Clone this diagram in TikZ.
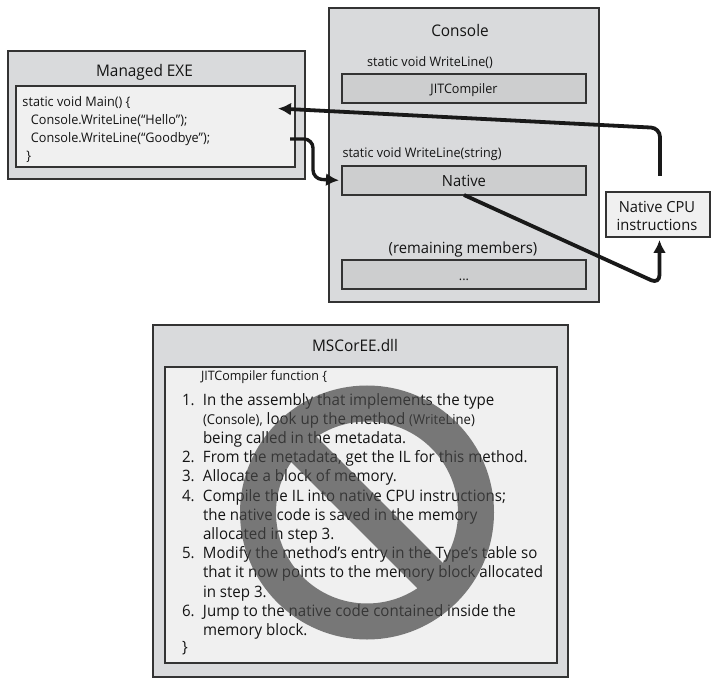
\documentclass[tikz,border=0pt]{standalone}
\usepackage{fontspec}
\setmainfont{Open Sans}[FakeStretch=0.96]
\usetikzlibrary{arrows.meta,calc}
\definecolor{outerfill}{HTML}{D9DADC}
\definecolor{innerfill}{HTML}{F0F0F0}
\definecolor{slotfill}{HTML}{CDCECF}
\definecolor{edge}{HTML}{333333}
\definecolor{ink}{HTML}{141414}
\tikzset{
  every node/.style={text=ink,inner sep=0pt,outer sep=0pt},
  panel/.style={draw=edge,line width=1.8pt,fill=outerfill,anchor=north west},
  inset/.style={draw=edge,line width=1.8pt,fill=innerfill,anchor=north west},
  slot/.style={draw=edge,line width=1.8pt,fill=slotfill,minimum width=244pt,minimum height=29pt,anchor=north west},
  flow/.style={draw=black!90,line width=3.8pt,rounded corners=9pt,-{Latex[length=13pt,width=13pt]}},
  flowthin/.style={flow,line width=3.4pt},
  title/.style={font=\fontsize{16}{18}\selectfont},
  lbl/.style={font=\fontsize{13.1}{15}\selectfont},
}
\newcommand{\fs}{\fontsize{15.7}{19.2}\selectfont}
\newcommand{\sm}{\fontsize{13.6}{19.2}\selectfont}
\newcommand{\num}[1]{\makebox[21pt][l]{#1}}
\newcommand{\ind}{\hspace*{21pt}}
\begin{document}
\begin{tikzpicture}[x=1pt,y=-1pt]
\useasboundingbox (0,0) rectangle (716,682);
\fill[white] (0,0) rectangle (716,682);
% Managed EXE
\node[panel,minimum width=297pt,minimum height=128pt] (exe) at (8,51) {};
\node[title] (exetitle) at (144.5,72) {Managed EXE};
\node[inset,minimum width=279pt,minimum height=81pt] (mainbox) at (16,86) {};
\node[anchor=north west,align=left,font=\fontsize{13.2}{18}\selectfont] (code) at (22.5,96)
  {static void Main() \{\\
   \hspace*{8.5pt}Console.WriteLine(“Hello”);\\
   \hspace*{8.5pt}Console.WriteLine(“Goodbye”);\\
   \hspace*{4pt}\}};
% Console
\node[panel,minimum width=270pt,minimum height=294pt] (console) at (329,8) {};
\node[title] (consoletitle) at (460,31) {Console};
\node[lbl] (m1) at (430,62.5) {static void WriteLine()};
\node[slot] (jit) at (342,74) {};
\node[lbl,yshift=-2pt] at (jit.center) (jittext) {JITCompiler};
\node[lbl] (m2) at (422,154.5) {static void WriteLine(string)};
\node[slot] (native) at (342,166) {};
\node[font=\fontsize{15.4}{17}\selectfont] at (native.center) (nativetext) {Native};
\node[font=\fontsize{15.4}{17}\selectfont] (m3) at (463,249.5) {(remaining members)};
\node[slot] (rest) at (342,260) {};
\node[lbl,yshift=-5pt] at (rest.center) (resttext) {...};
% CPU
\node[inset,minimum width=104pt,minimum height=45pt,align=center] (cpu) at (606,192) {};
\node[font=\fontsize{15.3}{18.5}\selectfont,align=center,yshift=-1.5pt,xshift=-1pt] (cputext) at (cpu.center) {Native CPU\\instructions};
% MSCorEE
\node[panel,minimum width=415pt,minimum height=352pt] (dll) at (153,325) {};
\node[title] (dlltitle) at (355,345.5) {MSCorEE.dll};
\node[inset,minimum width=392pt,minimum height=296pt] (jitbox) at (165,367) {};
\node[anchor=north west,align=left,font=\fs] (steps) at (182,370.5)
 {\hspace*{19pt}{\sm\fontsize{13}{19.2}\selectfont JITCompiler function \{}\\[5.5pt]
  \num{1.}In the assembly that implements the type\\
  \ind{\sm(Console),} look up the method {\sm(WriteLine)}\\
  \ind being called in the metadata.\\
  \num{2.}From the metadata, get the IL for this method.\\
  \num{3.}Allocate a block of memory.\\
  \num{4.}Compile the IL into native CPU instructions;\\
  \ind the native code is saved in the memory\\
  \ind allocated in step 3.\\
  \num{5.}Modify the method’s entry in the Type’s table so\\
  \ind that it now points to the memory block allocated\\
  \ind in step 3.\\
  \num{6.}Jump to the native code contained inside the\\
  \ind memory block.\\[-2pt]
  \}};
% prohibition sign
\coordinate (signc) at (367,512.5);
\draw[line width=36pt,draw=black!73,draw opacity=.7]
  (signc) circle[radius=109pt]
  ($(signc)+(-77,-77)$) -- ($(signc)+(77,77)$);
% connectors
\coordinate (a1s) at (660,176);
\coordinate (a1c) at (660,128);
\coordinate (a1e) at (278,108.5);
\draw[flow] (a1s) -- (a1c) -- (a1e);
\coordinate (a2s) at (290,139);
\coordinate (a2a) at (313,139);
\coordinate (a2b) at (313,179);
\draw[flowthin,shorten >=3pt] (a2s) -- (a2a) -- (a2b) -- (native.west);
\coordinate (a3c) at (659.5,284);
\draw[flow,shorten >=3pt] (native.south) -- (a3c) -- (cpu.south -| a3c);
\end{tikzpicture}
\end{document}
